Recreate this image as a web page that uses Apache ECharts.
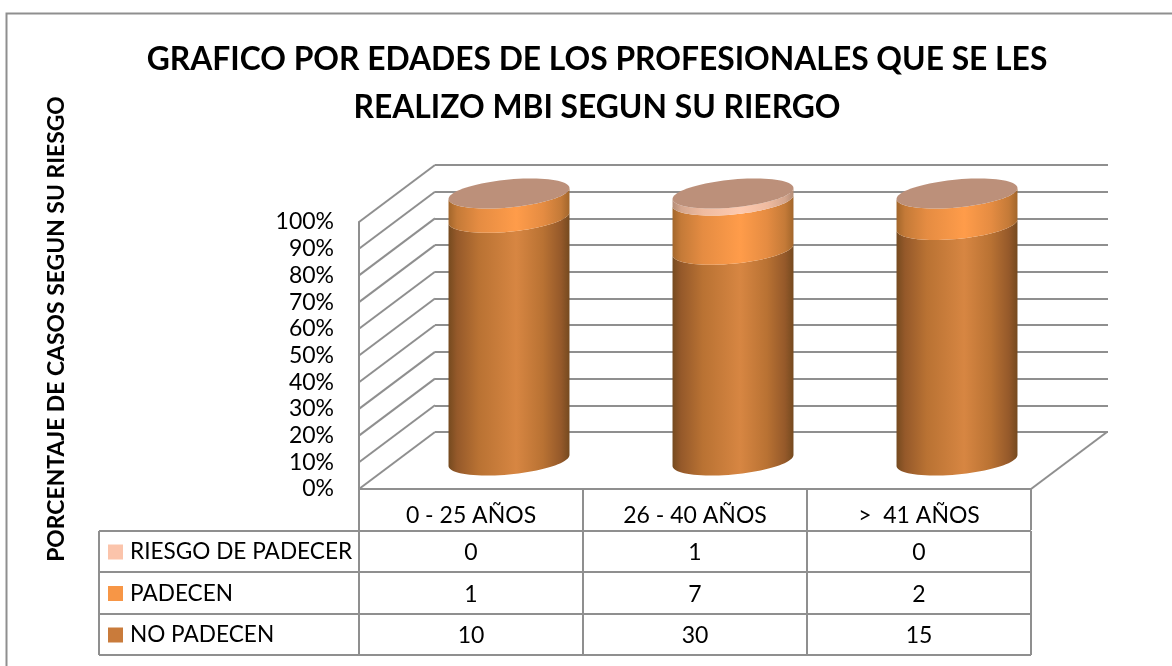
<!DOCTYPE html>
<html>
<head>
<meta charset="utf-8">
<style>
	html, body { margin: 0; padding: 0; background: #fff; }
	#main { width: 1172px; height: 666px; }
</style>
<script src="https://cdn.jsdelivr.net/npm/echarts@6/dist/echarts.min.js"></script>
</head>
<body>
<div id="main"></div>
<script>
var categories = ['0 - 25 AÑOS', '26 - 40 AÑOS', '>  41 AÑOS'];
var noPadecen = [10, 30, 15];
var padecen = [1, 7, 2];
var riesgo = [0, 1, 0];
var pctTicks = [0, 10, 20, 30, 40, 50, 60, 70, 80, 90, 100];

var gris = '#8f8f8f';
var fuente = 'Lato';
var depthX = 76, depthY = -57;

// totals per column, the chart is a 100% stack
var totals = categories.map(function (c, i) { return noPadecen[i] + padecen[i] + riesgo[i]; });

function stackData(values, below) {
	return values.map(function (v, i) {
		var start = below.reduce(function (s, arr) { return s + arr[i]; }, 0);
		return [i, start / totals[i] * 100, (start + v) / totals[i] * 100, v];
	});
}

function grad(edge, dark, mid, peak) {
	return new echarts.graphic.LinearGradient(0, 0, 1, 0, [
		{ offset: 0, color: edge },
		{ offset: 0.07, color: dark },
		{ offset: 0.25, color: mid },
		{ offset: 0.56, color: peak },
		{ offset: 0.78, color: mid },
		{ offset: 0.93, color: dark },
		{ offset: 1, color: edge }
	]);
}

// front half of the tilted ellipse, right to left
function frontArc(cx, cy, w) {
	var pts = [];
	for (var k = 0; k <= 40; k++) {
		var t = Math.PI * k / 40;
		pts.push([cx + w * Math.cos(t), cy - 5.5 * Math.cos(t) + 14 * Math.sin(t)]);
	}
	return pts;
}

function cylinder(fill, isTop) {
	return function (params, api) {
		if (api.value(3) === 0) { return null; }
		var w = api.size([1, 0])[0] * 0.27;
		var a = api.coord([api.value(0), api.value(1)]);
		var b = api.coord([api.value(0), api.value(2)]);
		var cx = a[0] + depthX / 2;
		var low = frontArc(cx, a[1] + depthY / 2, w);
		var up = frontArc(cx, b[1] + depthY / 2, w);
		var children = [{
			type: 'polygon',
			shape: { points: low.concat(up.slice().reverse()) },
			style: { fill: fill }
		}];
		// lid goes on the highest non empty segment
		if (isTop(api.value(0))) {
			var back = up.map(function (p) { return [2 * cx - p[0], 2 * (b[1] + depthY / 2) - p[1]]; });
			children.push({
				type: 'polygon',
				shape: { points: up.concat(back) },
				style: { fill: '#bc907a' }
			});
		}
		return { type: 'group', children: children };
	};
}

var legendNames = ['RIESGO DE PADECER', 'PADECEN', 'NO PADECEN'];
var tableRows = [riesgo, padecen, noPadecen];
var rowCenters = [553, 594.5, 636];
var tableData = [];
tableRows.forEach(function (row, r) {
	row.forEach(function (v, i) { tableData.push([i, 0, r, v]); });
});

function tline(x1, y1, x2, y2) {
	return { type: 'line', silent: true, shape: { x1: x1, y1: y1, x2: x2, y2: y2 }, style: { stroke: gris, lineWidth: 2 } };
}
var tableLines = [];
[531, 572, 614, 655].forEach(function (y) { tableLines.push(tline(99, y, 1031, y)); });
[99, 359, 583, 807, 1031].forEach(function (x) { tableLines.push(tline(x, 531, x, 655)); });

var myChart = echarts.init(document.getElementById('main'));
var option = {
	backgroundColor: '#fff',
	animation: false,
	title: {
		text: 'GRAFICO POR EDADES DE LOS PROFESIONALES QUE SE LES\nREALIZO MBI SEGUN SU RIERGO',
		left: 592,
		top: 31,
		textAlign: 'center',
		textStyle: { fontFamily: fuente, fontSize: 31.8, fontWeight: 'bold', color: '#000', lineHeight: 48 }
	},
	// one legend per table row, the keys sit inside the first column
	legend: legendNames.map(function (name, r) {
		return {
			data: [name],
			icon: 'rect',
			left: 108,
			top: rowCenters[r] - 12.5,
			padding: 0,
			itemWidth: 15,
			itemHeight: 15,
			itemStyle: { borderWidth: 0 },
			selectedMode: false,
			textStyle: { fontFamily: fuente, fontSize: 22.6, color: '#000', padding: [0, 0, 0, 2] }
		};
	}),
	grid: [
		{ left: 359, top: 222, width: 672, height: 267 },
		{ left: 435, top: 165, width: 673, height: 267 }
	],
	xAxis: [
		{
			type: 'category',
			data: categories,
			axisLine: { lineStyle: { color: gris, width: 2 } },
			axisTick: { show: true, length: 41, lineStyle: { color: gris, width: 2 } },
			axisLabel: { fontFamily: fuente, fontSize: 23, color: '#000', margin: 15 }
		},
		{
			type: 'value', gridIndex: 1, min: 0, max: 1,
			axisLine: { show: false }, axisTick: { show: false }, axisLabel: { show: false }, splitLine: { show: false }
		}
	],
	yAxis: [
		{
			type: 'value', min: 0, max: 100, interval: 10,
			axisLine: { show: true, lineStyle: { color: gris, width: 2 } },
			axisTick: { show: false },
			splitLine: { show: false },
			axisLabel: { formatter: '{value}%', fontFamily: fuente, fontSize: 23, color: '#000', margin: 25, padding: [10, 0, 0, 0] }
		},
		{
			type: 'value', gridIndex: 1, min: 0, max: 100, interval: 10,
			axisLine: { show: false }, axisTick: { show: false }, axisLabel: { show: false },
			splitLine: { show: true, lineStyle: { color: gris, width: 2 } }
		}
	],
	graphic: [
		{ type: 'polyline', silent: true, shape: { points: [[6.5, 666], [6.5, 13.5], [1172, 13.5]] }, style: { stroke: gris, lineWidth: 2, fill: 'none' } },
		{
			type: 'text', silent: true, x: 57, y: 329, rotation: Math.PI / 2,
			style: { text: 'PORCENTAJE DE CASOS SEGUN SU RIESGO', fontFamily: fuente, fontSize: 22.9, fontWeight: 'bold', fill: '#000', align: 'center', verticalAlign: 'middle' }
		}
	].concat(tableLines),
	series: [
		{
			// side wall, one diagonal per tick, plus the floor's right edge
			name: 'pared', type: 'custom', coordinateSystem: 'cartesian2d', silent: true, z: 1, clip: false,
			data: pctTicks.map(function (p) { return [0, p]; }),
			encode: { x: 0, y: 1 },
			renderItem: function (params, api) {
				var y = api.coord([0, api.value(1)])[1];
				var xl = params.coordSys.x;
				var style = { stroke: gris, lineWidth: 2 };
				var children = [{ type: 'line', shape: { x1: xl, y1: y, x2: xl + depthX, y2: y + depthY }, style: style }];
				if (api.value(1) === 0) {
					var xr = xl + params.coordSys.width;
					children.push({ type: 'line', shape: { x1: xr, y1: y, x2: xr + depthX, y2: y + depthY }, style: style });
				}
				return { type: 'group', children: children };
			}
		},
		{
			name: 'NO PADECEN', type: 'custom', coordinateSystem: 'cartesian2d', z: 3,
			itemStyle: { color: '#c97b3b' },
			data: stackData(noPadecen, []),
			encode: { x: 0, y: [1, 2] },
			renderItem: cylinder(grad('#754a1f', '#95592a', '#b97233', '#d78642'), function () { return false; })
		},
		{
			name: 'PADECEN', type: 'custom', coordinateSystem: 'cartesian2d', z: 4,
			itemStyle: { color: '#f79646' },
			data: stackData(padecen, [noPadecen]),
			encode: { x: 0, y: [1, 2] },
			renderItem: cylinder(grad('#a2662b', '#c47a38', '#e58c42', '#ff9c4a'), function (i) { return riesgo[i] === 0; })
		},
		{
			name: 'RIESGO DE PADECER', type: 'custom', coordinateSystem: 'cartesian2d', z: 5,
			itemStyle: { color: '#fbc4ab' },
			data: stackData(riesgo, [noPadecen, padecen]),
			encode: { x: 0, y: [1, 2] },
			renderItem: cylinder(grad('#b48c76', '#d4a68e', '#efbba0', '#fdcab0'), function () { return true; })
		},
		{
			// numbers of the data table under the chart
			name: 'tabla', type: 'custom', coordinateSystem: 'cartesian2d', silent: true, z: 6, clip: false,
			data: tableData,
			encode: { x: 0, y: 1 },
			renderItem: function (params, api) {
				return {
					type: 'text',
					style: {
						text: String(api.value(3)),
						x: api.coord([api.value(0), 0])[0],
						y: rowCenters[api.value(2)],
						align: 'center', verticalAlign: 'middle',
						fontFamily: fuente, fontSize: 23, fill: '#000'
					}
				};
			}
		}
	]
};
myChart.setOption(option);
</script>
</body>
</html>
